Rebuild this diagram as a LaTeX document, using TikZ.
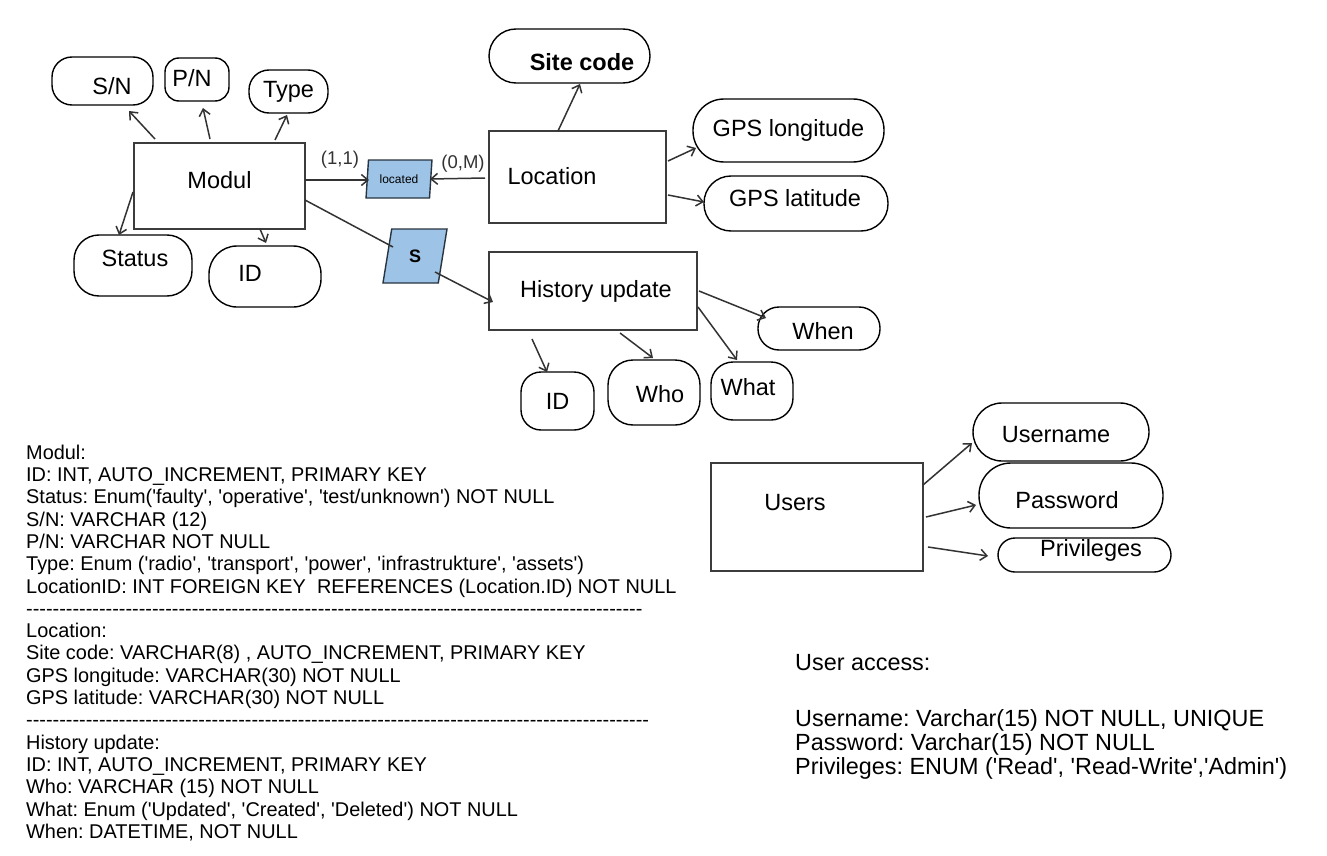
\documentclass[tikz,border=0pt]{standalone}
\usepackage{fontspec}
\setmainfont{Liberation Sans}[Ligatures=TeXOff]
\usetikzlibrary{shapes.geometric,arrows.meta}
\definecolor{entc}{RGB}{60,60,60}
\definecolor{arrc}{RGB}{51,51,51}
\definecolor{relfill}{RGB}{157,195,230}
\definecolor{relc}{RGB}{40,52,64}
\newcount\hyc
\newcommand\hyrow[1]{\hyc=0 \loop\hbox{-}\advance\hyc by 1 \ifnum\hyc<#1\repeat}
\tikzset{
  ent/.style={draw=entc, line width=1.5pt, inner sep=0pt, font=\fontsize{23.5}{28}\selectfont},
  att/.style={draw=black, line width=1.4pt, rounded corners=#1, inner sep=0pt, font=\fontsize{23.5}{28}\selectfont},
  lbl/.style={font=\fontsize{23.5}{28}\selectfont, inner sep=0pt},
  con/.style={draw=arrc, line width=1.5pt, -{Straight Barb[length=6.5pt,width=11pt,line width=1.5pt]}},
  plain/.style={draw=arrc, line width=1.5pt},
  relshape/.style={trapezium, trapezium left angle=80, trapezium right angle=100, trapezium stretches=true, draw=relc, fill=relfill, line width=1.4pt, inner sep=0pt},
  card/.style={font=\fontsize{18.5}{22}\selectfont, inner sep=0pt, text=arrc},
  body/.style={inner sep=0pt, align=left, anchor=north west},
}
\begin{document}
\frenchspacing
\begin{tikzpicture}[x=1pt,y=-1pt]
\fill[white] (0,0) rectangle (1327,856);
\useasboundingbox (0,0) rectangle (1327,856);

% ---------- Modul and attributes
\node[ent, minimum width=171pt, minimum height=86pt, label={[lbl, shift={(0,-6)}]center:Modul}] (modul) at (219.5,186) {};
\node[att=20pt, minimum width=101pt, minimum height=48pt, label={[lbl, shift={(9.5,5)}]center:S/N}] (sn) at (102.5,81) {};
\node[att=14pt, minimum width=64pt, minimum height=43pt, label={[lbl, shift={(-5,-1.5)}]center:P/N}] (pn) at (197,79.5) {};
\node[att=20pt, minimum width=79pt, minimum height=43pt] (type) at (288.5,91.5) {Type};
\node[att=25pt, minimum width=118pt, minimum height=61pt, label={[lbl, shift={(2,-7.5)}]center:Status}] (status) at (133,265.5) {};
\node[att=28pt, minimum width=112pt, minimum height=61pt, label={[lbl, shift={(-15,-3.5)}]center:ID}] (mid) at (265,276.5) {};

% ---------- relationships
\node[relshape, minimum width=66pt, minimum height=38pt, font=\fontsize{12}{14}\selectfont] (located) at (399,179) {located};
\node[relshape, minimum width=64pt, minimum height=54pt, font=\fontsize{18}{20}\selectfont\bfseries] (srel) at (415,256) {S};
\node[card] (c11) at (340,160) {(1,1)};
\node[card] (c0m) at (463,164) {(0,M)};

% ---------- Location
\node[ent, minimum width=177pt, minimum height=92pt, label={[lbl, shift={(-25.5,-1)}]center:Location}] (location) at (577.5,177) {};
\node[att=27pt, minimum width=161pt, minimum height=54pt, label={[lbl, font=\fontsize{23.5}{28}\selectfont\bfseries, shift={(12.5,6)}]center:Site code}] (site) at (569.5,56) {};
\node[att=31pt, minimum width=191pt, minimum height=63pt] (gpslon) at (788.5,130.5) {GPS longitude};
\node[att=27pt, minimum width=184pt, minimum height=55pt, label={[lbl, shift={(-1,-5.5)}]center:GPS latitude}] (gpslat) at (796,203.5) {};

% ---------- History update
\node[ent, minimum width=208pt, minimum height=78pt, label={[lbl, shift={(3,0)}]center:History update}] (hu) at (593,291) {};
\node[att=21pt, minimum width=122pt, minimum height=43pt, label={[lbl, shift={(4,2.5)}]center:When}] (when) at (819,328.5) {};
\node[att=25pt, minimum width=92pt, minimum height=65pt, label={[lbl, shift={(6,1.5)}]center:Who}] (who) at (654,392.5) {};
\node[att=22pt, minimum width=82pt, minimum height=58pt, label={[lbl, shift={(-4,-4)}]center:What}] (what) at (752,391) {};
\node[att=20pt, minimum width=73pt, minimum height=58pt] (hid) at (557.5,401) {ID};

% ---------- Users
\node[ent, minimum width=212pt, minimum height=108pt, label={[lbl, shift={(-22,-14)}]center:Users}] (users) at (817,517) {};
\node[att=29pt, minimum width=176pt, minimum height=58pt, label={[lbl, shift={(-5,3)}]center:Username}] (uname) at (1061,432) {};
\node[att=32pt, minimum width=184pt, minimum height=65pt, label={[lbl, shift={(-4,4.5)}]center:Password}] (pwd) at (1071,495.5) {};
\node[att=17pt, minimum width=173pt, minimum height=34pt, label={[lbl, shift={(6.5,-5)}]center:Privileges}] (priv) at (1084.5,555) {};

% ---------- connectors
\draw[con] ([shift={(-64.5,-47)}]modul.center) -- ([shift={(26.5,30)}]sn.center);
\draw[con] ([shift={(-9.5,-47)}]modul.center) -- ([shift={(6,28.5)}]pn.center);
\draw[con] ([shift={(55.5,-46)}]modul.center) -- ([shift={(-1.5,23.5)}]type.center);
\draw[con] ([shift={(-86.5,6)}]modul.center) -- ([shift={(-14,-30.5)}]status.center);
\draw[con] ([shift={(40.5,43)}]modul.center) -- ([shift={(1,-33.5)}]mid.center);
\draw[con] ([shift={(85.5,-6)}]modul.center) -- ([shift={(-30,1)}]located.center);
\draw[con] ([shift={(-92.5,1)}]location.center) -- ([shift={(31,0)}]located.center);
\draw[con] ([shift={(-19.5,-46)}]location.center) -- ([shift={(10.5,28)}]site.center);
\draw[con] ([shift={(90.5,-16)}]location.center) -- ([shift={(-92.5,17.5)}]gpslon.center);
\draw[con] ([shift={(90.5,18)}]location.center) -- ([shift={(-92,-1.5)}]gpslat.center);
\draw[plain] ([shift={(85.5,14)}]modul.center) -- ([shift={(-22,-9)}]srel.center);
\draw[con] ([shift={(20,16)}]srel.center) -- ([shift={(-100,11)}]hu.center);
\draw[con] ([shift={(106,0)}]hu.center) -- ([shift={(-53,-10.5)}]when.center);
\draw[con] ([shift={(105,16)}]hu.center) -- ([shift={(-15,-31)}]what.center);
\draw[con] ([shift={(27,42)}]hu.center) -- ([shift={(-1,-34.5)}]who.center);
\draw[con] ([shift={(-61,48)}]hu.center) -- ([shift={(-10.5,-29)}]hid.center);
\draw[con] ([shift={(106,-32)}]users.center) -- ([shift={(-89,11)}]uname.center);
\draw[con] ([shift={(109,0)}]users.center) -- ([shift={(-95,9.5)}]pwd.center);
\draw[con] ([shift={(111,30)}]users.center) -- ([shift={(-96.5,1)}]priv.center);

% ---------- definitions text
\node[body, font=\fontsize{19.9}{22.3}\selectfont] (defs) at (26,443.4) {\strut Modul:\\
ID: INT, AUTO\_INCREMENT, PRIMARY KEY\\
Status: Enum('faulty', 'operative', 'test/unknown') NOT NULL\\
S/N: VARCHAR (12)\\
P/N: VARCHAR NOT NULL\\
Type: Enum ('radio', 'transport', 'power', 'infrastrukture', 'assets')\\
LocationID: INT FOREIGN KEY\ \ REFERENCES (Location.ID) NOT NULL\\
\hyrow{93}\\
Location:\\
Site code: VARCHAR(8) , AUTO\_INCREMENT, PRIMARY KEY\\
GPS longitude: VARCHAR(30) NOT NULL\\
GPS latitude: VARCHAR(30) NOT NULL\\
\hyrow{94}\\
History update:\\
ID: INT, AUTO\_INCREMENT, PRIMARY KEY\\
Who: VARCHAR (15) NOT NULL\\
What: Enum ('Updated', 'Created', 'Deleted') NOT NULL\\
When: DATETIME, NOT NULL};

% ---------- user access text
\node[inner sep=0pt, anchor=base west, font=\fontsize{23.4}{25}\selectfont] (ua) at (795,670) {User access:};
\node[inner sep=0pt, anchor=base west, font=\fontsize{23.4}{25}\selectfont] (ua1) at (795,726) {Username: Varchar(15) NOT NULL, UNIQUE};
\node[inner sep=0pt, anchor=base west, font=\fontsize{23.4}{25}\selectfont] (ua2) at (795,750.5) {Password: Varchar(15) NOT NULL};
\node[inner sep=0pt, anchor=base west, font=\fontsize{23.4}{25}\selectfont] (ua3) at (795,774) {Privileges: ENUM ('Read', 'Read-Write','Admin')};
\end{tikzpicture}
\end{document}
